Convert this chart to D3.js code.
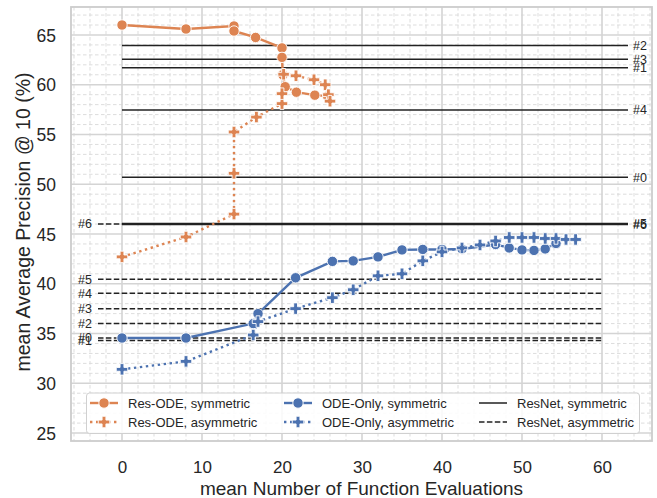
<!DOCTYPE html>
<html><head><meta charset="utf-8">
<script src="https://cdn.jsdelivr.net/npm/d3@7"></script>
<style>body{margin:0;background:#fff}svg{display:block}text{font-family:"Liberation Sans",Arial,sans-serif}</style>
</head><body><svg id="c" width="657" height="498"></svg>
<script>
// ---- data ----
const resOdeSymX = [0, 8, 14, 14, 16.7, 20, 20, 20.1, 20.4, 21.8, 24.1, 25.7];
const resOdeSymY = [66.0, 65.6, 65.9, 65.4, 64.75, 63.7, 62.75, 61.0, 59.8, 59.25, 58.95, 58.85];
const resOdeAsymX = [0, 8, 14, 14, 14, 16.8, 20, 20, 20.2, 21.75, 24.0, 25.4, 25.8, 26.0];
const resOdeAsymY = [42.7, 44.7, 47.0, 51.1, 55.25, 56.75, 58.1, 59.1, 61.05, 60.9, 60.5, 60.0, 59.0, 58.35];
const odeSymX = [0, 8, 16.4, 17.0, 21.7, 26.3, 28.9, 32.0, 35.0, 37.6, 40.0, 42.5, 46.7, 48.4, 50.0, 51.5, 52.9, 54.25];
const odeSymY = [34.55, 34.55, 36.0, 37.0, 40.6, 42.25, 42.3, 42.7, 43.4, 43.45, 43.45, 43.5, 43.95, 43.6, 43.4, 43.35, 43.5, 44.05];
const odeAsymX = [0, 8, 16.4, 17.0, 21.7, 26.3, 28.9, 32.0, 35.0, 37.6, 40.0, 42.5, 44.75, 46.7, 48.4, 50.0, 51.5, 52.9, 54.25, 55.5, 56.7];
const odeAsymY = [31.4, 32.2, 34.85, 36.2, 37.5, 38.6, 39.4, 40.8, 41.0, 42.3, 43.2, 43.6, 43.9, 44.3, 44.65, 44.65, 44.65, 44.55, 44.55, 44.45, 44.45];
const resnetSymLabels = ["#0", "#1", "#2", "#3", "#4", "#5", "#6"];
const resnetSymY = [50.7, 61.7, 63.95, 62.55, 57.45, 46.05, 45.95];
const resnetAsymLabels = ["#0", "#1", "#2", "#3", "#4", "#5", "#6"];
const resnetAsymY = [34.55, 34.3, 36.0, 37.5, 39.05, 40.45, 46.0];
const resnetSymRange = [0, 63.25];
const resnetAsymRange = [-3, 60];
const xTicks = [0, 10, 20, 30, 40, 50, 60];
const yTicks = [25, 30, 35, 40, 45, 50, 55, 60, 65];
const legendLabels = ["Res-ODE, symmetric", "Res-ODE, asymmetric", "ODE-Only, symmetric", "ODE-Only, asymmetric", "ResNet, symmetric", "ResNet, asymmetric"];

// ---- chart ----
const ORANGE = "#dd8452", BLUE = "#4c72b0", TXT = "#262626";
const svg = d3.select("#c");
const L = 71, R = 652, T = 7, B = 441;
const x = d3.scaleLinear().domain([-6.375, 66.25]).range([L, R]);
const y = d3.scaleLinear().domain([24.2, 67.81]).range([B, T]);

// minor grid
const g = svg.append("g");
g.selectAll(".mx").data(d3.range(-6, 67, 2).filter(v => v % 10 !== 0)).join("line")
  .attr("x1", d => x(d)).attr("x2", d => x(d)).attr("y1", T).attr("y2", B)
  .attr("stroke", "#d9d9d9").attr("stroke-width", 0.9).attr("stroke-dasharray", "3.5,2.5");
g.selectAll(".my").data(d3.range(25, 68, 1).filter(v => v % 5 !== 0)).join("line")
  .attr("x1", L).attr("x2", R).attr("y1", d => y(d)).attr("y2", d => y(d))
  .attr("stroke", "#d9d9d9").attr("stroke-width", 0.9).attr("stroke-dasharray", "3.5,2.5");
// major grid
g.selectAll(".Mx").data(xTicks).join("line")
  .attr("x1", d => x(d)).attr("x2", d => x(d)).attr("y1", T).attr("y2", B)
  .attr("stroke", "#d4d4d4").attr("stroke-width", 1.6);
g.selectAll(".My").data(yTicks).join("line")
  .attr("x1", L).attr("x2", R).attr("y1", d => y(d)).attr("y2", d => y(d))
  .attr("stroke", "#d4d4d4").attr("stroke-width", 1.6);

// frame
svg.append("rect").attr("x", L).attr("y", T).attr("width", R - L).attr("height", B - T)
  .attr("fill", "none").attr("stroke", "#cccccc").attr("stroke-width", 1.8);

// axes (labels only)
const xAxis = d3.axisBottom(x).tickValues(xTicks).tickSize(0).tickPadding(0);
const xa = svg.append("g").attr("transform", `translate(0,${B})`).call(xAxis);
xa.select(".domain").remove();
xa.selectAll("text").attr("dy", null).attr("y", 31.5).attr("fill", TXT).style("font-size", "17px").style("font-family", '"Liberation Sans",Arial,sans-serif');
const yAxis = d3.axisLeft(y).tickValues(yTicks).tickSize(0).tickPadding(0);
const ya = svg.append("g").attr("transform", `translate(${L},0)`).call(yAxis);
ya.select(".domain").remove();
ya.selectAll("text").attr("x", -15).attr("dy", "0.35em").attr("fill", TXT).style("font-size", "17.5px").style("font-family", '"Liberation Sans",Arial,sans-serif');

svg.append("text").attr("x", (L + R) / 2).attr("y", 494.5).attr("text-anchor", "middle")
  .attr("fill", TXT).style("font-size", "19px").text("mean Number of Function Evaluations");
svg.append("text").attr("transform", `translate(23,${(T + B) / 2 - 2}) rotate(-90)`).attr("text-anchor", "middle")
  .attr("dy", "0.35em").attr("fill", TXT).style("font-size", "19.5px").text("mean Average Precision @ 10 (%)");

// ResNet lines
const rs = svg.append("g");
resnetAsymY.forEach((v, i) => {
  rs.append("line").attr("x1", x(resnetAsymRange[0])).attr("x2", x(resnetAsymRange[1]))
    .attr("y1", y(v)).attr("y2", y(v)).attr("stroke", "#222").attr("stroke-width", 1.5).attr("stroke-dasharray", "5.5,2.4");
  rs.append("text").attr("x", x(resnetAsymRange[0]) - 6).attr("y", y(v)).attr("dy", "0.35em").attr("text-anchor", "end")
    .attr("fill", TXT).style("font-size", "12.5px").text(resnetAsymLabels[i]);
});
resnetSymY.forEach((v, i) => {
  rs.append("line").attr("x1", x(resnetSymRange[0])).attr("x2", x(resnetSymRange[1]))
    .attr("y1", y(v)).attr("y2", y(v)).attr("stroke", "#222").attr("stroke-width", 1.5);
  rs.append("text").attr("x", x(resnetSymRange[1]) + 5).attr("y", y(v)).attr("dy", "0.35em").attr("text-anchor", "start")
    .attr("fill", TXT).style("font-size", "12.5px").text(resnetSymLabels[i]);
});

// series
function plusPath(s) {
  const a = s / 2, t = s / 6;
  return `M${-t},${-a}H${t}V${-t}H${a}V${t}H${t}V${a}H${-t}V${t}H${-a}V${-t}H${-t}Z`;
}
const line = d3.line().x(d => x(d[0])).y(d => y(d[1]));
function series(xs, ys, color, dotted, marker) {
  const pts = xs.map((v, i) => [v, ys[i]]);
  const grp = svg.append("g");
  grp.append("path").attr("d", line(pts)).attr("fill", "none").attr("stroke", color)
    .attr("stroke-width", 2.4).attr("stroke-dasharray", dotted ? "2.4,3.6" : null);
  if (marker === "o") {
    grp.selectAll("circle").data(pts).join("circle").attr("cx", d => x(d[0])).attr("cy", d => y(d[1]))
      .attr("r", 5.2).attr("fill", color).attr("stroke", "#fff").attr("stroke-width", 0.9);
  } else {
    grp.selectAll(".p").data(pts).join("path").attr("transform", d => `translate(${x(d[0])},${y(d[1])})`)
      .attr("d", plusPath(11.5)).attr("fill", color).attr("stroke", "#fff").attr("stroke-width", 0.9);
  }
}
series(resOdeSymX, resOdeSymY, ORANGE, false, "o");
series(resOdeAsymX, resOdeAsymY, ORANGE, true, "P");
series(odeSymX, odeSymY, BLUE, false, "o");
series(odeAsymX, odeAsymY, BLUE, true, "P");

// legend
const lg = svg.append("g");
lg.append("rect").attr("x", 86.5).attr("y", 393).attr("width", 553).attr("height", 40.5).attr("rx", 3)
  .attr("fill", "#fff").attr("fill-opacity", 0.85).attr("stroke", "#d0d0d0").attr("stroke-width", 1);
const cols = [90, 284, 479], txtOff = 38, rowsY = [403, 422];
const specs = [
  {c: ORANGE, dot: false, m: "o"}, {c: ORANGE, dot: true, m: "P"},
  {c: BLUE, dot: false, m: "o"}, {c: BLUE, dot: true, m: "P"},
  {c: "#222", dot: false, m: null, res: true}, {c: "#222", dot: false, m: null, res: true, dash: true}
];
specs.forEach((s, i) => {
  const cx = cols[Math.floor(i / 2)], cy = rowsY[i % 2];
  lg.append("line").attr("x1", cx).attr("x2", cx + 28).attr("y1", cy).attr("y2", cy).attr("stroke", s.c)
    .attr("stroke-width", s.res ? 1.5 : 2.4)
    .attr("stroke-dasharray", s.dash ? "5.5,2.4" : (s.dot ? "2.4,3.6" : null));
  if (s.m === "o") lg.append("circle").attr("cx", cx + 14).attr("cy", cy).attr("r", 5.2).attr("fill", s.c).attr("stroke", "#fff").attr("stroke-width", 0.9);
  if (s.m === "P") lg.append("path").attr("transform", `translate(${cx + 14},${cy})`).attr("d", plusPath(11.5)).attr("fill", s.c).attr("stroke", "#fff").attr("stroke-width", 0.9);
  lg.append("text").attr("x", cx + txtOff).attr("y", cy).attr("dy", "0.35em").attr("fill", TXT)
    .style("font-size", "13px").text(legendLabels[i]);
});
</script></body></html>
